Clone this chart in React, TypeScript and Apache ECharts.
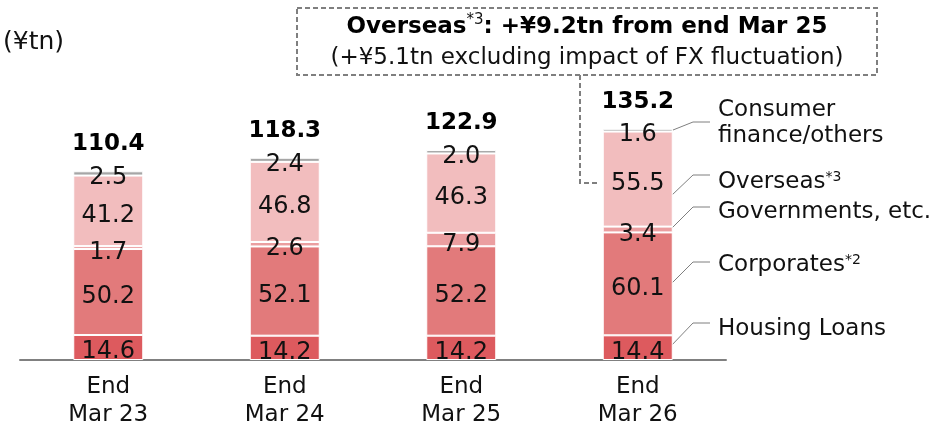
import React, { useEffect, useRef } from "react";
import * as echarts from "echarts";

const categories = ["End\nMar 23", "End\nMar 24", "End\nMar 25", "End\nMar 26"];
const housingLoans = [14.6, 14.2, 14.2, 14.4];
const corporates = [50.2, 52.1, 52.2, 60.1];
const governments = [1.7, 2.6, 7.9, 3.4];
const overseas = [41.2, 46.8, 46.3, 55.5];
const consumer = [2.5, 2.4, 2.0, 1.6];
const totals = [110.4, 118.3, 122.9, 135.2];

const FONT = "DejaVu Sans";
const TXT = "#111111";

export default function App() {
  const ref = useRef<HTMLDivElement>(null);
  useEffect(() => {
    if (!ref.current) return;
    const chart = echarts.init(ref.current, null, { renderer: "svg" });
    const seg = (name: string, data: number[], color: string) => ({
      name,
      type: "bar",
      stack: "total",
      barWidth: 70,
      data,
      itemStyle: { color, borderColor: "#ffffff", borderWidth: 1 },
      label: {
        show: true,
        position: "inside",
        offset: [0, 3],
        fontFamily: FONT,
        fontSize: 24,
        color: TXT,
        formatter: (p: any) => Number(p.value).toFixed(1),
      },
    });
    const lineStyle = { stroke: "#7f7f7f", lineWidth: 1, fill: "none" };
    const leader = (pts: number[][]) => ({ type: "polyline", shape: { points: pts }, style: lineStyle, silent: true });
    const legendText = (x: number, y: number, text: string) => ({
      type: "text",
      x,
      y,
      style: {
        text,
        fontFamily: FONT,
        fontSize: 23,
        fill: TXT,
        verticalAlign: "middle",
        rich: {
          sup: { fontFamily: FONT, fontSize: 14, fill: TXT, verticalAlign: "top", lineHeight: 14 },
        },
      },
    });
    chart.setOption({
      animation: false,
      grid: { left: 20, width: 706, top: 86, bottom: 67, containLabel: false, outerBoundsMode: "none" },
      xAxis: {
        type: "category",
        data: categories,
        axisLine: { lineStyle: { color: "#808080", width: 2 } },
        axisTick: { show: false },
        axisLabel: { fontFamily: FONT, fontSize: 23, color: TXT, lineHeight: 28, margin: 11 },
      },
      yAxis: { type: "value", min: 0, max: 160, show: false, splitLine: { show: false } },
      series: [
        seg("Housing Loans", housingLoans, "#DD5A5E"),
        seg("Corporates", corporates, "#E27A7B"),
        seg("Governments, etc.", governments, "#EB9EA0"),
        seg("Overseas", overseas, "#F2BDBE"),
        seg("Consumer finance/others", consumer, "#A6A6A6"),
        {
          type: "scatter",
          data: totals,
          symbolSize: 0,
          itemStyle: { opacity: 1 },
          label: {
            show: true,
            position: "top",
            distance: 17,
            fontFamily: FONT,
            fontSize: 23,
            fontWeight: "bold",
            color: "#000000",
            formatter: (p: any) => Number(p.value).toFixed(1),
          },
        },
      ],
      graphic: [
        { type: "text", x: 3, y: 40, style: { text: "(¥tn)", fontFamily: FONT, fontSize: 25, fill: TXT, verticalAlign: "middle" } },
        {
          type: "rect",
          shape: { x: 297, y: 8, width: 580, height: 67 },
          style: { fill: "none", stroke: "#7f7f7f", lineWidth: 2, lineDash: [5, 3] },
        },
        {
          type: "polyline",
          shape: { points: [[580, 75], [580, 183], [598, 183]] },
          style: { fill: "none", stroke: "#7f7f7f", lineWidth: 2, lineDash: [5, 3] },
        },
        {
          type: "text",
          x: 587,
          y: 25,
          style: {
            text: "{b|Overseas}{sup|*3}{b|: +¥9.2tn from end Mar 25}",
            align: "center",
            verticalAlign: "middle",
            rich: {
              b: { fontFamily: FONT, fontSize: 23, fontWeight: "bold", fill: "#000000", lineHeight: 27 },
              sup: { fontFamily: FONT, fontSize: 15, fontWeight: "normal", fill: TXT, verticalAlign: "top", lineHeight: 15 },
            },
          },
        },
        {
          type: "text",
          x: 587,
          y: 56,
          style: {
            text: "(+¥5.1tn excluding impact of FX fluctuation)",
            align: "center",
            verticalAlign: "middle",
            fontFamily: FONT,
            fontSize: 23,
            fill: TXT,
          },
        },
        leader([[673, 130], [693, 122], [710, 122]]),
        leader([[672, 195], [693, 175], [710, 175]]),
        leader([[672, 228], [693, 207], [710, 207]]),
        leader([[670, 285], [693, 262], [710, 262]]),
        leader([[670, 347], [693, 323], [710, 323]]),
        legendText(718, 108, "Consumer"),
        legendText(718, 134, "finance/others"),
        legendText(718, 180, "Overseas{sup|*3}"),
        legendText(718, 210, "Governments, etc."),
        legendText(718, 263, "Corporates{sup|*2}"),
        legendText(718, 327, "Housing Loans"),
      ],
    });
    return () => chart.dispose();
  }, []);
  return <div ref={ref} style={{ position: "fixed", left: 0, top: 0, width: 945, height: 427 }} />;
}
